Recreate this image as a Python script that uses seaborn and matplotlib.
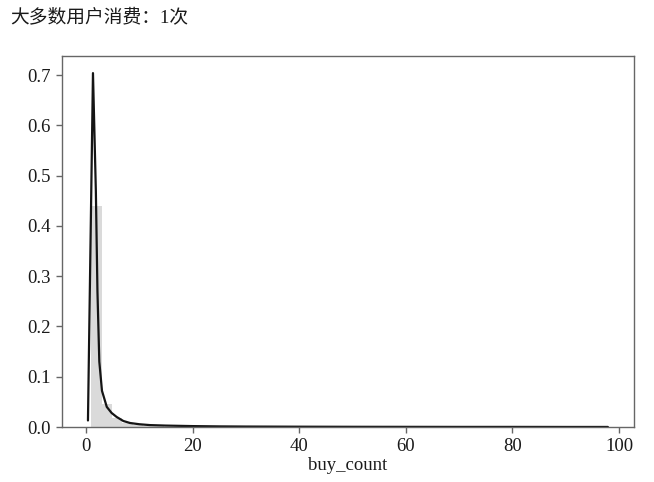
import numpy as np
import pandas as pd
import matplotlib
matplotlib.use("Agg")
import matplotlib.pyplot as plt
import seaborn as sns

# ---- data ----
title_text = "大多数用户消费：1次"
x_label = "buy_count"
x_ticks = [0, 20, 40, 60, 80, 100]
y_ticks = [0.0, 0.1, 0.2, 0.3, 0.4, 0.5, 0.6, 0.7]

# histogram: 50 bins over the data range [1, 98], density heights
hist_range = (1, 98)
hist_bins = 50
hist_density = [0.440, 0.046, 0.017, 0.008, 0.004, 0.0022, 0.0014, 0.0009, 0.0006, 0.0005,
                0.0004, 0.0003, 0.0003, 0.0002, 0.0002, 0.0002, 0.0001, 0.0001, 0.0001, 0.0001,
                0.0001, 0.0001, 0.0001, 0.0001, 0.0001, 0.0001, 0.0, 0.0, 0.0, 0.0,
                0.0, 0.0, 0.0, 0.0, 0.0, 0.0, 0.0, 0.0, 0.0, 0.0,
                0.0, 0.0, 0.0, 0.0, 0.0, 0.0, 0.0, 0.0, 0.0, 0.0]

# KDE curve points
kde_x = [0.37, 1.31, 1.85, 2.15, 2.5, 3.0, 3.9, 4.8, 5.75, 7.0, 8.25, 10.0, 12.0,
         15.0, 20.0, 25.0, 30.0, 40.0, 50.0, 60.0, 70.0, 80.0, 90.0, 97.9]
kde_y = [0.013, 0.704, 0.47, 0.27, 0.13, 0.072, 0.040, 0.028, 0.020, 0.012, 0.008, 0.0055, 0.0038,
         0.0028, 0.0018, 0.0012, 0.0009, 0.0006, 0.0004, 0.0003, 0.0002, 0.0002, 0.0001, 0.0001]

# ---- styling ----
sns.set_style("ticks")
plt.rcParams['font.family'] = ['Liberation Serif', 'Noto Sans CJK SC', 'DejaVu Sans']

fig = plt.figure(figsize=(6.54, 4.82), dpi=100)
ax = fig.add_axes([0.0948, 0.1141, 0.8746, 0.7697])

edges = [float(e) for e in np.linspace(hist_range[0], hist_range[1], hist_bins + 1)]
centers = [(edges[i] + edges[i + 1]) / 2 for i in range(hist_bins)]
hist_df = pd.DataFrame({"buy_count": centers, "w": hist_density})
sns.histplot(data=hist_df, x="buy_count", weights="w", bins=edges, stat="count",
             color="#dadada", alpha=1.0, edgecolor="none", linewidth=0, ax=ax)

kde_df = pd.DataFrame({"buy_count": kde_x, "density": kde_y})
sns.lineplot(data=kde_df, x="buy_count", y="density", color="#151515", linewidth=1.6, ax=ax)

ax.set_xlim(-4.5, 102.8)
ax.set_ylim(0, 0.738)
ax.set_xticks(x_ticks)
ax.set_yticks(y_ticks)
ax.set_yticklabels([f"{v:.1f}" for v in y_ticks])
ax.set_xlabel(x_label, fontsize=13.5, color="#1a1a1a", labelpad=1)
ax.set_ylabel("")

for side in ["left", "right", "top", "bottom"]:
    ax.spines[side].set_visible(True)
    ax.spines[side].set_color("#666666")
    ax.spines[side].set_linewidth(1.0)
ax.tick_params(axis="both", colors="#666666", labelcolor="#1a1a1a", labelsize=13.5,
               length=4.5, width=1.0, direction="out")

fig.text(0.015, 1 - 17 / 482, title_text, fontsize=13.5, va="center", ha="left", color="#1a1a1a")

fig.savefig("out.png", dpi=100)
